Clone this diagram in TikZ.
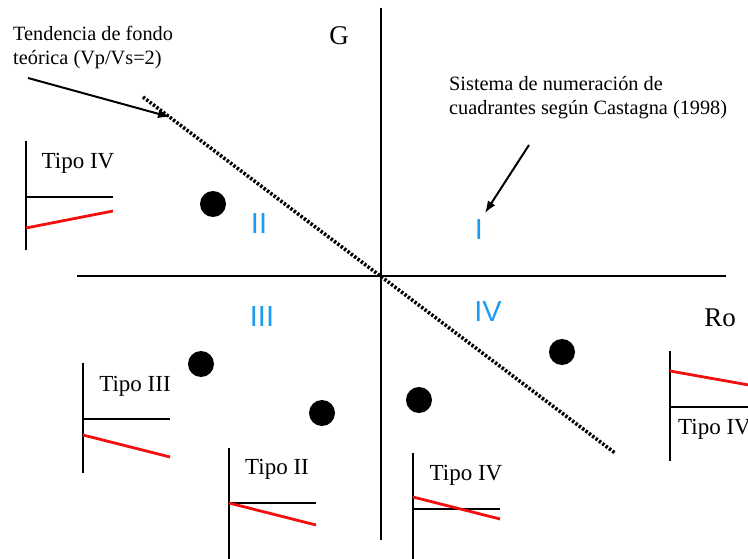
\documentclass[tikz,border=0pt]{standalone}
\usepackage{fontspec}
\setmainfont{Liberation Serif}
\newfontfamily\numfont{Liberation Sans}
\usepackage{tikz}
\usetikzlibrary{arrows.meta,positioning}
\definecolor{quadblue}{HTML}{1E9BF0}
\definecolor{trendred}{HTML}{F01010}

\begin{document}
\begin{tikzpicture}[
      x=1pt,y=-1pt,
      >={Latex[length=12pt,width=9pt]},
      axisline/.style={line width=1.7pt},
      refline/.style={line width=1.3pt},
      redline/.style={line width=2.8pt,trendred},
      trendline/.style={line width=3.6pt,dash pattern=on 2.4pt off 1.8pt},
      pointer/.style={->,line width=2pt},
      sample/.style={circle,fill=black,inner sep=0pt,minimum size=26pt},
      quadlabel/.style={font=\numfont\fontsize{29}{29}\selectfont,text=quadblue},
      axislabel/.style={font=\fontsize{27}{27}\selectfont},
      note/.style={font=\fontsize{20.3}{24}\selectfont,align=left,anchor=north west,inner sep=0pt},
      tipolabel/.style={font=\fontsize{23}{23}\selectfont,inner sep=0pt}
    ]
    \useasboundingbox (0,0) rectangle (748,559);
    % axes
    \draw[axisline] (381,8) -- (381,540);
    \draw[axisline] (77,276) -- (726,276);
    \node[axislabel] (glabel) at (339,36) {G};
    \node[axislabel] (rolabel) at (720,318) {Ro};
    % background trend
    \draw[trendline] (143,97) -- (615,453);
    \node[note] (trendnote) at (13,26) {Tendencia de fondo\\te\'orica (Vp/Vs=2)};
    \coordinate (trendfrom) at (28,78);
    \coordinate (trendto) at (170,117);
    \draw[pointer] (trendfrom) -- (trendto);
    % quadrant numbering
    \node[note] (castagna) at (449,76) {Sistema de numeraci\'on de\\cuadrantes seg\'un Castagna (1998)};
    \node[quadlabel] (qone) at (479,230) {I};
    \node[quadlabel] (qtwo) at (259,224) {II};
    \node[quadlabel] (qthree) at (262,317) {III};
    \node[quadlabel] (qfour) at (488,312) {IV};
    \coordinate (castfrom) at (529,145);
    \coordinate (castto) at (485,213);
    \draw[pointer] (castfrom) -- (castto);
    % samples
    \node[sample] (sa) at (213,204) {};
    \node[sample] (sb) at (201,364) {};
    \node[sample] (sc) at (322,413) {};
    \node[sample] (sd) at (419,400) {};
    \node[sample] (se) at (562,352) {};
    % small trend sketches
    \draw[refline] (26,141) -- (26,250);
    \draw[refline] (26,197) -- (113,197);
    \draw[redline] (26,228) -- (113,211);
    \node[tipolabel] (tipoa) at (78,163) {Tipo IV};

    \draw[refline] (83,363) -- (83,473);
    \draw[refline] (83,419) -- (170,419);
    \draw[redline] (83,435) -- (170,457);
    \node[tipolabel] (tipob) at (135,386) {Tipo III};

    \draw[refline] (229,448) -- (229,559);
    \draw[refline] (229,503) -- (316,503);
    \draw[redline] (229,503) -- (316,525);
    \node[tipolabel] (tipoc) at (277,469) {Tipo II};

    \draw[refline] (413,453) -- (413,559);
    \draw[refline] (413,509) -- (500,509);
    \draw[redline] (413,497) -- (500,519);
    \node[tipolabel] (tipod) at (466,475) {Tipo IV};

    \draw[refline] (670,351) -- (670,461);
    \draw[refline] (670,407) -- (760,407);
    \draw[redline] (670,371) -- (760,387);
    \node[tipolabel,anchor=west] (tipoe) at (678,429) {Tipo IV};
  \end{tikzpicture}
\end{document}
